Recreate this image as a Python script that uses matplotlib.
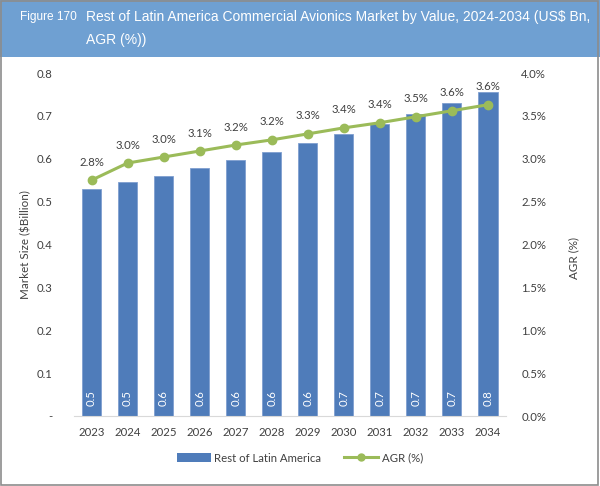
import numpy as np
from matplotlib import pyplot as plt
from matplotlib.lines import Line2D
from matplotlib.patches import Patch, Rectangle
from matplotlib.ticker import FuncFormatter

YEARS = ['2023', '2024', '2025', '2026', '2027', '2028',
         '2029', '2030', '2031', '2032', '2033', '2034']
MARKET = [0.529, 0.545, 0.560, 0.578, 0.597, 0.615,
          0.636, 0.658, 0.680, 0.704, 0.729, 0.756]
AGR = [2.75, 2.95, 3.02, 3.09, 3.16, 3.22,
       3.29, 3.36, 3.42, 3.49, 3.56, 3.63]

BAR_COLOR = '#4f7cba'
LINE_COLOR = '#9bbb59'
TEXT = '#404040'
FONT = 'Lato'

fig = plt.figure(figsize=(6, 4.86), dpi=100)

# title band and outer border
fig.patches.append(Rectangle((0, 1 - 57 / 486), 1, 57 / 486, transform=fig.transFigure,
                             facecolor='#6fa0d2', edgecolor='none', zorder=0))
fig.patches.append(Rectangle((0.002, 0.002), 0.995, 0.995, transform=fig.transFigure,
                             facecolor='none', edgecolor='#8c8c8c', lw=1.2, zorder=5))
fig.text(20 / 600, 1 - 17 / 486, 'Figure 170', color='white', fontsize=8.6,
         family='Liberation Sans', va='center')
fig.text(86 / 600, 1 - 17 / 486,
         'Rest of Latin America Commercial Avionics Market by Value, 2024-2034 (US$ Bn,',
         color='white', fontsize=10, family='Liberation Sans', va='center')
fig.text(86 / 600, 1 - 40 / 486, 'AGR (%))', color='white', fontsize=10,
         family='Liberation Sans', va='center')

ax = fig.add_axes([73.5 / 600, 70 / 486, 432.5 / 600, 343 / 486])
x = np.arange(len(YEARS))
ax.bar(x, MARKET, width=0.53, color=BAR_COLOR, edgecolor='#7f9fd0', linewidth=0.6, zorder=2)
ax.set_xlim(-0.5, len(YEARS) - 0.5)
ax.set_ylim(0, 0.8)
ax.set_yticks(np.arange(0, 0.81, 0.1))
ax.yaxis.set_major_formatter(FuncFormatter(lambda v, _: '-' if v < 1e-9 else f'{v:.1f}'))
ax.set_xticks(x)
ax.set_xticklabels(YEARS)
for s in ['top', 'right', 'left']:
    ax.spines[s].set_visible(False)
ax.spines['bottom'].set_color('#d9d9d9')
ax.tick_params(axis='both', length=0, labelsize=8.2, labelcolor=TEXT)
ax.tick_params(axis='x', pad=8)
ax.tick_params(axis='y', pad=15)
for lab in ax.get_xticklabels() + ax.get_yticklabels():
    lab.set_family(FONT)
ax.set_ylabel('Market Size ($Billion)', fontsize=8.4, color=TEXT, family=FONT, labelpad=4)

for xi, v in zip(x, MARKET):
    ax.text(xi, 0.042, f'{v:.1f}', rotation=90, ha='center', va='center',
            color='white', fontsize=8.2, family=FONT, zorder=3)

ax2 = ax.twinx()
ax2.plot(x, AGR, color=LINE_COLOR, lw=2.2, marker='o', ms=6, zorder=4)
ax2.set_ylim(0, 4.0)
ax2.set_yticks(np.arange(0, 4.01, 0.5))
ax2.yaxis.set_major_formatter(FuncFormatter(lambda v, _: f'{v:.1f}%'))
for s in ['top', 'right', 'left', 'bottom']:
    ax2.spines[s].set_visible(False)
ax2.tick_params(axis='y', length=0, labelsize=8.2, labelcolor=TEXT, pad=11)
for lab in ax2.get_yticklabels():
    lab.set_family(FONT)
ax2.set_ylabel('AGR (%)', fontsize=8.4, color=TEXT, family=FONT, rotation=90,
               va='bottom', labelpad=2)
ax2.yaxis.set_label_coords(1.17, 0.46)
for xi, v in zip(x, AGR):
    ax2.annotate(f'{v:.1f}%', (xi, v), xytext=(0, 9), textcoords='offset points',
                 ha='center', va='bottom', fontsize=8.2, color=TEXT, family=FONT)

handles = [Patch(facecolor=BAR_COLOR, edgecolor='none'),
           Line2D([0], [0], color=LINE_COLOR, lw=2.2, marker='o', ms=5)]
fig.legend(handles, ['Rest of Latin America', 'AGR (%)'], loc='center',
           bbox_to_anchor=(0.5, 1 - 458 / 486), ncol=2, frameon=False,
           prop={'family': FONT, 'size': 8.2}, labelcolor=TEXT,
           handlelength=3.0, handleheight=0.9, columnspacing=2.0, handletextpad=0.3)

fig.savefig('out.png', dpi=100)
